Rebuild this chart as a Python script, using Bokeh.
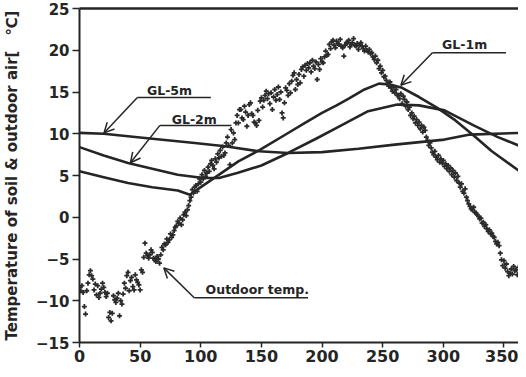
from bokeh.plotting import figure
from bokeh.models import Range1d, LinearAxis, FixedTicker, Arrow, OpenHead, Label
from bokeh.embed import file_html
from bokeh.resources import INLINE

# ---------------- data ----------------
x_ticks = [0, 50, 100, 150, 200, 250, 300, 350]
y_ticks = [-15, -10, -5, 0, 5, 10, 15, 20, 25]

# outdoor air temperature, one value per day (day 0 .. 364)
air_temp = [
    -8.4, -8.8, -8.2, -9.0, -10.7, -11.6, -8.8, -7.9, -6.9, -6.4,
    -7.0, -7.4, -8.7, -8.0, -9.3, -8.2, -9.6, -9.1, -8.6, -7.9,
    -8.4, -9.0, -9.5, -9.1, -12.0, -11.4, -12.4, -11.5, -9.4, -9.9,
    -10.2, -9.7, -9.1, -11.8, -10.0, -10.4, -9.2, -7.9, -8.5, -7.0,
    -6.6, -8.8, -7.6, -7.2, -8.3, -8.7, -6.9, -7.5, -7.8, -8.1,
    -8.7, -6.3, -6.6, -4.8, -3.1, -4.3, -4.6, -4.9, -4.5, -3.9,
    -4.2, -4.9, -5.1, -5.3, -4.7, -5.0, -5.5, -4.5, -3.6, -3.9,
    -3.2, -3.3, -2.6, -3.0, -2.7, -2.0, -2.4, -2.1, -1.6, -1.2,
    -1.0, -0.5, -0.7, -0.1, -0.9, -0.3, 0.3, 0.6, 0.2, 0.9,
    1.4, 2.0, 2.4, 3.3, 2.9, 3.6, 3.8, 3.1, 4.0, 4.6,
    4.2, 5.1, 4.6, 5.6, 4.9, 5.3, 6.0, 5.5, 6.4, 6.8,
    6.2, 5.8, 7.0, 6.6, 7.6, 7.1, 8.0, 7.3, 8.4, 7.4,
    7.7, 8.9, 9.6, 8.6, 6.3, 10.5, 8.9, 10.1, 9.3, 11.3,
    12.2, 11.3, 12.9, 12.9, 11.9, 11.7, 13.3, 12.6, 10.9, 12.2,
    13.5, 13.7, 12.4, 12.2, 11.4, 11.3, 11.0, 12.8, 11.6, 13.9,
    14.3, 13.2, 14.0, 14.6, 15.1, 14.2, 14.8, 13.6, 14.9, 12.9,
    14.4, 15.3, 14.0, 14.7, 15.6, 14.1, 15.0, 12.5, 11.9, 13.7,
    15.5, 15.2, 14.6, 16.0, 14.9, 16.3, 17.0, 17.3, 15.3, 16.5,
    15.9, 17.1, 16.1, 17.7, 18.0, 16.9, 18.2, 17.6, 18.4, 17.9,
    18.5, 17.4, 18.8, 18.1, 17.8, 18.6, 16.5, 18.3, 17.7, 19.0,
    18.6, 18.5, 19.2, 19.9, 19.4, 19.5, 20.7, 20.2, 21.0, 21.2,
    20.6, 20.3, 21.1, 20.8, 20.7, 21.3, 20.5, 20.3, 19.3, 20.6,
    20.9, 20.9, 21.2, 20.4, 20.7, 20.9, 21.4, 20.6, 20.5, 20.8,
    20.1, 20.6, 20.9, 20.5, 20.2, 19.9, 20.5, 20.0, 19.8, 20.1,
    19.6, 19.7, 19.2, 18.9, 19.3, 18.5, 18.8, 17.8, 18.1, 17.3,
    17.6, 16.8, 16.9, 16.4, 16.0, 15.7, 16.2, 15.5, 15.1, 15.6,
    14.9, 15.3, 14.6, 14.6, 14.2, 14.8, 13.6, 14.5, 14.1, 13.3,
    13.8, 12.9, 13.2, 12.2, 12.5, 11.8, 12.1, 11.3, 11.7, 11.0,
    11.4, 10.6, 11.0, 10.2, 10.8, 10.4, 9.6, 9.2, 8.6, 8.9,
    8.3, 7.8, 7.5, 7.9, 7.2, 6.9, 7.4, 6.6, 7.0, 6.5,
    6.8, 6.1, 6.4, 5.8, 6.2, 5.5, 5.9, 5.1, 5.6, 4.8,
    5.3, 4.4, 4.9, 4.1, 3.6, 4.0, 3.1, 2.9, 3.4, 2.4,
    2.0, 1.6, 1.3, 1.0, 0.9, 1.2, 0.6, 0.5, 0.3, 0.1,
    -0.2, -0.1, -0.7, -0.6, -1.1, -0.9, -1.4, -1.7, -1.5, -2.0,
    -1.9, -2.3, -2.4, -2.9, -3.2, -3.0, -3.4, -4.3, -5.1, -5.8,
    -5.2, -6.1, -5.6, -6.5, -7.0, -6.7, -6.2, -6.8, -5.9, -6.4,
    -6.3, -6.9, -6.0, -6.6, -6.1,
]
air_day = list(range(len(air_temp)))

# soil temperature at GL-1m
gl1_day = [0, 20, 40, 60, 81, 91, 100, 110, 131, 148, 171, 187, 200, 212, 222, 235, 247, 256, 266, 280, 295, 310, 325, 340, 362]
gl1_temp = [5.5, 4.8, 4.1, 3.6, 3.2, 2.7, 3.6, 4.6, 6.7, 8.0, 10.0, 11.4, 12.5, 13.4, 14.2, 15.3, 16.0, 15.9, 15.5, 14.4, 13.1, 11.6, 9.8, 7.9, 5.6]

# soil temperature at GL-2m
gl2_day = [0, 20, 40, 60, 81, 102, 115, 130, 150, 172, 195, 212, 238, 262, 280, 301, 325, 345, 362]
gl2_temp = [8.4, 7.4, 6.5, 5.8, 5.1, 4.7, 4.7, 5.3, 6.2, 7.7, 9.4, 10.7, 12.7, 13.5, 13.4, 12.8, 11.0, 9.6, 8.6]

# soil temperature at GL-5m
gl5_day = [0, 20, 54, 95, 120, 148, 172, 200, 230, 260, 301, 322, 362]
gl5_temp = [10.1, 10.0, 9.5, 8.9, 8.5, 7.9, 7.7, 7.8, 8.2, 8.7, 9.3, 9.9, 10.1]

# annotations: label, text anchor, underline span, arrow tip
ann_text = ["GL-5m", "GL-2m", "GL-1m", "Outdoor temp."]
ann_tx = [55.6, 76, 299, 104]
ann_ty = [15.2, 11.7, 20.7, -8.7]
ann_ux0 = [47.7, 66.3, 291, 94.6]
ann_ux1 = [108.3, 125.3, 351.7, 188.4]
ann_uy = [14.33, 11.0, 19.7, -9.65]
ann_px = [20.2, 42, 265, 69.5]
ann_py = [10.1, 6.53, 15.8, -6.06]

# ---------------- figure ----------------
INK = "#252525"
FONT = "DejaVu Sans"

p = figure(width=518, height=369, output_backend="svg", toolbar_location=None,
           x_range=Range1d(0, 362), y_range=Range1d(-15, 25),
           min_border_left=70, min_border_right=0, min_border_top=8, min_border_bottom=27,
           background_fill_color="white", border_fill_color="white")
p.outline_line_color = None
p.grid.visible = False

xa = p.xaxis[0]
xa.ticker = FixedTicker(ticks=x_ticks)
ya = p.yaxis[0]
ya.ticker = FixedTicker(ticks=y_ticks)
for ax in (xa, ya):
    ax.axis_line_width = 2
    ax.axis_line_color = INK
    ax.major_tick_line_color = INK
    ax.major_tick_line_width = 1.5
    ax.major_tick_in = 0
    ax.minor_tick_line_color = None
    ax.major_label_text_font = FONT
    ax.major_label_text_font_style = "bold"
    ax.major_label_text_color = INK
xa.major_tick_out = 5
xa.major_label_standoff = 2
xa.major_label_text_font_size = "16px"
ya.major_tick_out = 7
ya.major_label_standoff = 3
ya.major_label_text_font_size = "15px"
ya.axis_label = "Temperature of soil & outdoor air[\u3000\u2103]"
ya.axis_label_text_font = FONT
ya.axis_label_text_font_style = "bold"
ya.axis_label_text_font_size = "15px"
ya.axis_label_text_color = INK
ya.axis_label_standoff = 12

top = LinearAxis(ticker=FixedTicker(ticks=[]), axis_line_width=2.5, axis_line_color=INK,
                 major_tick_line_color=None, minor_tick_line_color=None,
                 major_label_text_font_size="0px")
p.add_layout(top, "above")

# soil temperature curves
for d, t in ((gl5_day, gl5_temp), (gl2_day, gl2_temp), (gl1_day, gl1_temp)):
    p.line(d, t, line_color=INK, line_width=2.6, line_join="round")

# outdoor temperature points
p.scatter(air_day, air_temp, marker="cross", size=5, line_width=1.8, color="#2b2b2b")

# annotations
p.segment(x0=ann_ux0, y0=ann_uy, x1=ann_ux1, y1=ann_uy, line_color=INK, line_width=1.5)
for i in range(len(ann_text)):
    p.add_layout(Arrow(end=OpenHead(size=10, line_width=1.5, line_color=INK),
                       x_start=ann_ux0[i], y_start=ann_uy[i], x_end=ann_px[i], y_end=ann_py[i],
                       line_color=INK, line_width=1.5))
    p.add_layout(Label(x=ann_tx[i], y=ann_ty[i], text=ann_text[i], text_font=FONT,
                       text_font_style="bold", text_font_size="12.5px", text_color=INK,
                       text_baseline="middle", text_align="left"))

open("out.html", "w").write(file_html(p, INLINE))
